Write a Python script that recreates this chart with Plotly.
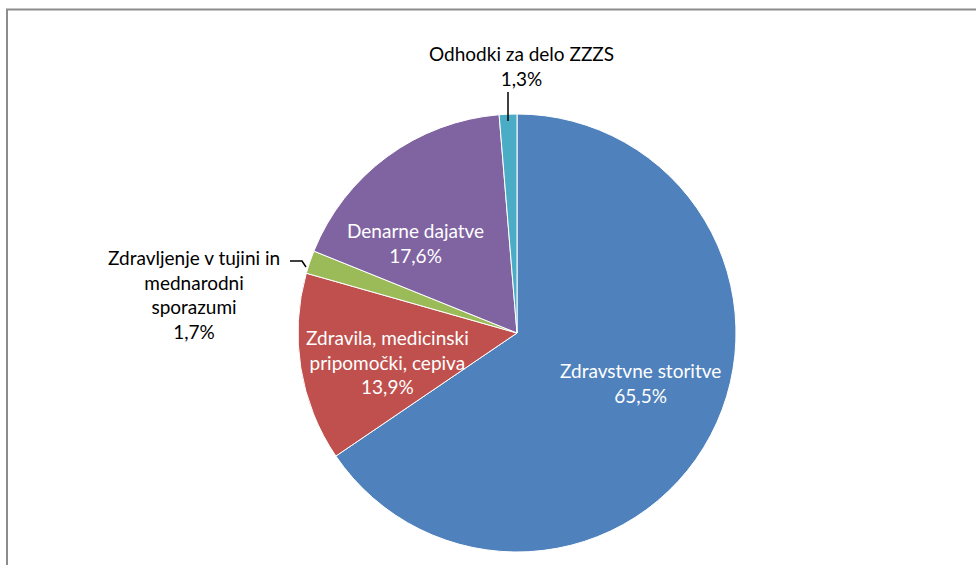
import plotly.graph_objects as go

labels = ["Zdravstvne storitve", "Zdravila, medicinski pripomočki, cepiva",
          "Zdravljenje v tujini in mednarodni sporazumi", "Denarne dajatve",
          "Odhodki za delo ZZZS"]
values = [65.5, 13.9, 1.7, 17.6, 1.3]
colors = ["#4F81BD", "#C0504D", "#9BBB59", "#8064A2", "#4BACC6"]
# label text as shown, with line breaks
label_lines = ["Zdravstvne storitve", "Zdravila, medicinski<br>pripomočki, cepiva",
               "Zdravljenje v tujini in<br>mednarodni<br>sporazumi", "Denarne dajatve",
               "Odhodki za delo ZZZS"]

W, H = 976, 565
cx, cy, r = 517, 333, 219

def px(x):
    return x / W

def py(y):
    return 1 - y / H

fig = go.Figure(go.Pie(
    labels=labels, values=values, sort=False, direction="clockwise", rotation=0,
    marker=dict(colors=colors, line=dict(color="white", width=1)),
    textinfo="none", hoverinfo="label+percent", showlegend=False,
    domain=dict(x=[px(cx - r), px(cx + r)], y=[py(cy + r), py(cy - r)]),
))

def fmt(v):
    return f"{v:.1f}".replace(".", ",") + "%"

# label positions (pixel centres) and colours
pos = [(640, 383), (387, 362), (194, 294), (415, 243), (521, 66)]
fcol = ["white", "white", "black", "white", "black"]
ann = []
for i in range(len(labels)):
    ann.append(dict(x=px(pos[i][0]), y=py(pos[i][1]), xref="paper", yref="paper",
                    text=label_lines[i] + "<br>" + fmt(values[i]), showarrow=False,
                    font=dict(family="Lato", size=19, color=fcol[i]),
                    align="center", xanchor="center", yanchor="middle"))

shapes = [
    # frame
    dict(type="line", xref="paper", yref="paper", x0=px(7), x1=px(7), y0=py(565), y1=py(9.5),
         line=dict(color="#8C8C8C", width=2)),
    dict(type="line", xref="paper", yref="paper", x0=px(6), x1=px(976), y0=py(9.5), y1=py(9.5),
         line=dict(color="#8C8C8C", width=2)),
    # leader lines
    dict(type="line", xref="paper", yref="paper", x0=px(508), x1=px(508), y0=py(92), y1=py(121),
         line=dict(color="black", width=1.5)),
    dict(type="path", xref="paper", yref="paper",
         path=f"M {px(290)},{py(261)} L {px(302)},{py(261)} L {px(306)},{py(267)}",
         line=dict(color="black", width=1.5)),
]

fig.update_layout(width=W, height=H, margin=dict(l=0, r=0, t=0, b=0),
                  paper_bgcolor="white", plot_bgcolor="white",
                  annotations=ann, shapes=shapes)
fig.write_html("out.html", config={"displayModeBar": False},
               post_script="document.body.style.margin='0px';")
